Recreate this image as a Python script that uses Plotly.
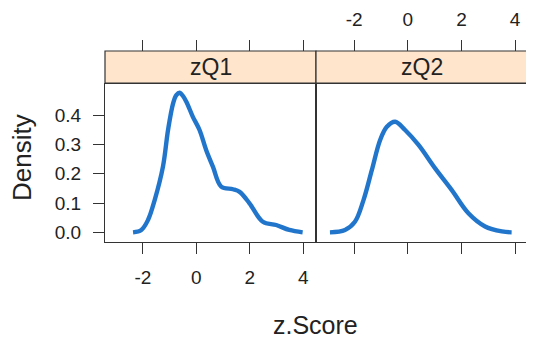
import plotly.graph_objects as go

# zQ1 density curve
z1_x = [-2.37, -2.06, -1.81, -1.56, -1.25, -1.06, -0.87, -0.75, -0.62, -0.50, -0.37, -0.13, 0.12, 0.37, 0.62, 0.93, 1.37, 1.62, 1.99, 2.49, 2.99, 3.48, 3.98]
z1_y = [0.0, 0.008, 0.042, 0.11, 0.224, 0.349, 0.44, 0.468, 0.476, 0.465, 0.445, 0.394, 0.349, 0.28, 0.224, 0.156, 0.147, 0.138, 0.099, 0.036, 0.025, 0.008, 0.0]
# zQ2 density curve
z2_x = [-2.90, -2.34, -1.97, -1.65, -1.34, -1.03, -0.78, -0.47, -0.10, 0.40, 1.02, 1.64, 2.26, 2.88, 3.51, 3.87]
z2_y = [0.0, 0.008, 0.036, 0.11, 0.212, 0.315, 0.36, 0.377, 0.349, 0.298, 0.218, 0.144, 0.065, 0.02, 0.003, 0.0]

panels = ["zQ1", "zQ2"]
x_ticks = [-2, 0, 2, 4]
x_tick_labels = ["-2", "0", "2", "4"]
y_ticks = [0.0, 0.1, 0.2, 0.3, 0.4]
y_tick_labels = ["0.0", "0.1", "0.2", "0.3", "0.4"]
x_range = [-3.42, 4.48]
y_range = [-0.033, 0.506]

W, H = 534, 340
OFF = 8  # page body margin
px = lambda v: (v - OFF) / W
py = lambda v: 1 - (v - OFF) / H

LINE = "#333333"
CURVE = "#2176cc"
FONT = "Liberation Sans, Arial, sans-serif"
TXT = "#222222"

d1 = [px(105), px(316)]
d2 = [px(316), px(528)]
ydom = [py(242), py(84)]
strip_top, strip_bot = py(51), py(83)

fig = go.Figure()
fig.add_trace(go.Scatter(x=z1_x, y=z1_y, mode="lines", line=dict(color=CURVE, width=4.4, shape="spline"),
                         xaxis="x", yaxis="y", showlegend=False, hoverinfo="skip"))
fig.add_trace(go.Scatter(x=z2_x, y=z2_y, mode="lines", line=dict(color=CURVE, width=4.4, shape="spline"),
                         xaxis="x2", yaxis="y2", showlegend=False, hoverinfo="skip"))
# helper traces so the top tick axes get drawn
fig.add_trace(go.Scatter(x=[None], y=[None], xaxis="x3", yaxis="y", showlegend=False))
fig.add_trace(go.Scatter(x=[None], y=[None], xaxis="x4", yaxis="y2", showlegend=False))

axfont = dict(family=FONT, size=19, color=TXT)
common_x = dict(range=x_range, tickvals=x_ticks, ticktext=x_tick_labels, ticks="outside", ticklen=11,
                tickwidth=1.2, tickcolor=LINE, showgrid=False, zeroline=False, tickfont=axfont,
                fixedrange=True)

fig.update_layout(
    width=W, height=H, margin=dict(l=0, r=0, t=0, b=0),
    paper_bgcolor="white", plot_bgcolor="white",
    xaxis=dict(domain=d1, anchor="y", showline=True, linecolor=LINE, linewidth=1.2, mirror=True,
               ticklabelstandoff=7, **common_x),
    xaxis2=dict(domain=d2, anchor="y2", showline=True, linecolor=LINE, linewidth=1.2, mirror=True,
                showticklabels=False, **common_x),
    xaxis3=dict(overlaying="x", side="top", anchor="free", position=strip_top, showline=False,
                showticklabels=False, **common_x),
    xaxis4=dict(overlaying="x2", side="top", anchor="free", position=strip_top, showline=False,
                showticklabels=True, ticklabelstandoff=6, **common_x),
    yaxis=dict(domain=ydom, anchor="x", range=y_range, tickvals=y_ticks, ticktext=y_tick_labels,
               ticks="outside", ticklen=11, tickwidth=1.2, tickcolor=LINE, showline=True,
               linecolor=LINE, linewidth=1.2, mirror=True, showgrid=False, zeroline=False,
               tickfont=axfont, ticklabelstandoff=8),
    yaxis2=dict(domain=ydom, anchor="x2", range=y_range, tickvals=y_ticks, side="right",
                ticks="outside", ticklen=11, tickwidth=1.2, tickcolor=LINE, showline=True,
                linecolor=LINE, linewidth=1.2, mirror=True, showgrid=False, zeroline=False,
                showticklabels=False),
)

# strips
for dom, label in zip([d1, d2], panels):
    fig.add_shape(type="rect", xref="paper", yref="paper", x0=dom[0], x1=dom[1], y0=strip_bot, y1=strip_top,
                  fillcolor="#ffe5cc", line=dict(color=LINE, width=1.2), layer="below")
    fig.add_annotation(xref="paper", yref="paper", x=(dom[0] + dom[1]) / 2, y=(strip_top + strip_bot) / 2,
                       xanchor="center", yanchor="middle",
                       text=label, showarrow=False, font=dict(family=FONT, size=23, color=TXT))

fig.add_annotation(xref="paper", yref="paper", x=px(315), y=py(325), xanchor="center", yanchor="middle",
                   text="z.Score", showarrow=False, font=dict(family=FONT, size=25, color=TXT))
fig.add_annotation(xref="paper", yref="paper", x=px(22), y=py(158), xanchor="center", yanchor="middle",
                   text="Density", textangle=-90, showarrow=False, font=dict(family=FONT, size=26, color=TXT))

fig.write_html("out.html")
